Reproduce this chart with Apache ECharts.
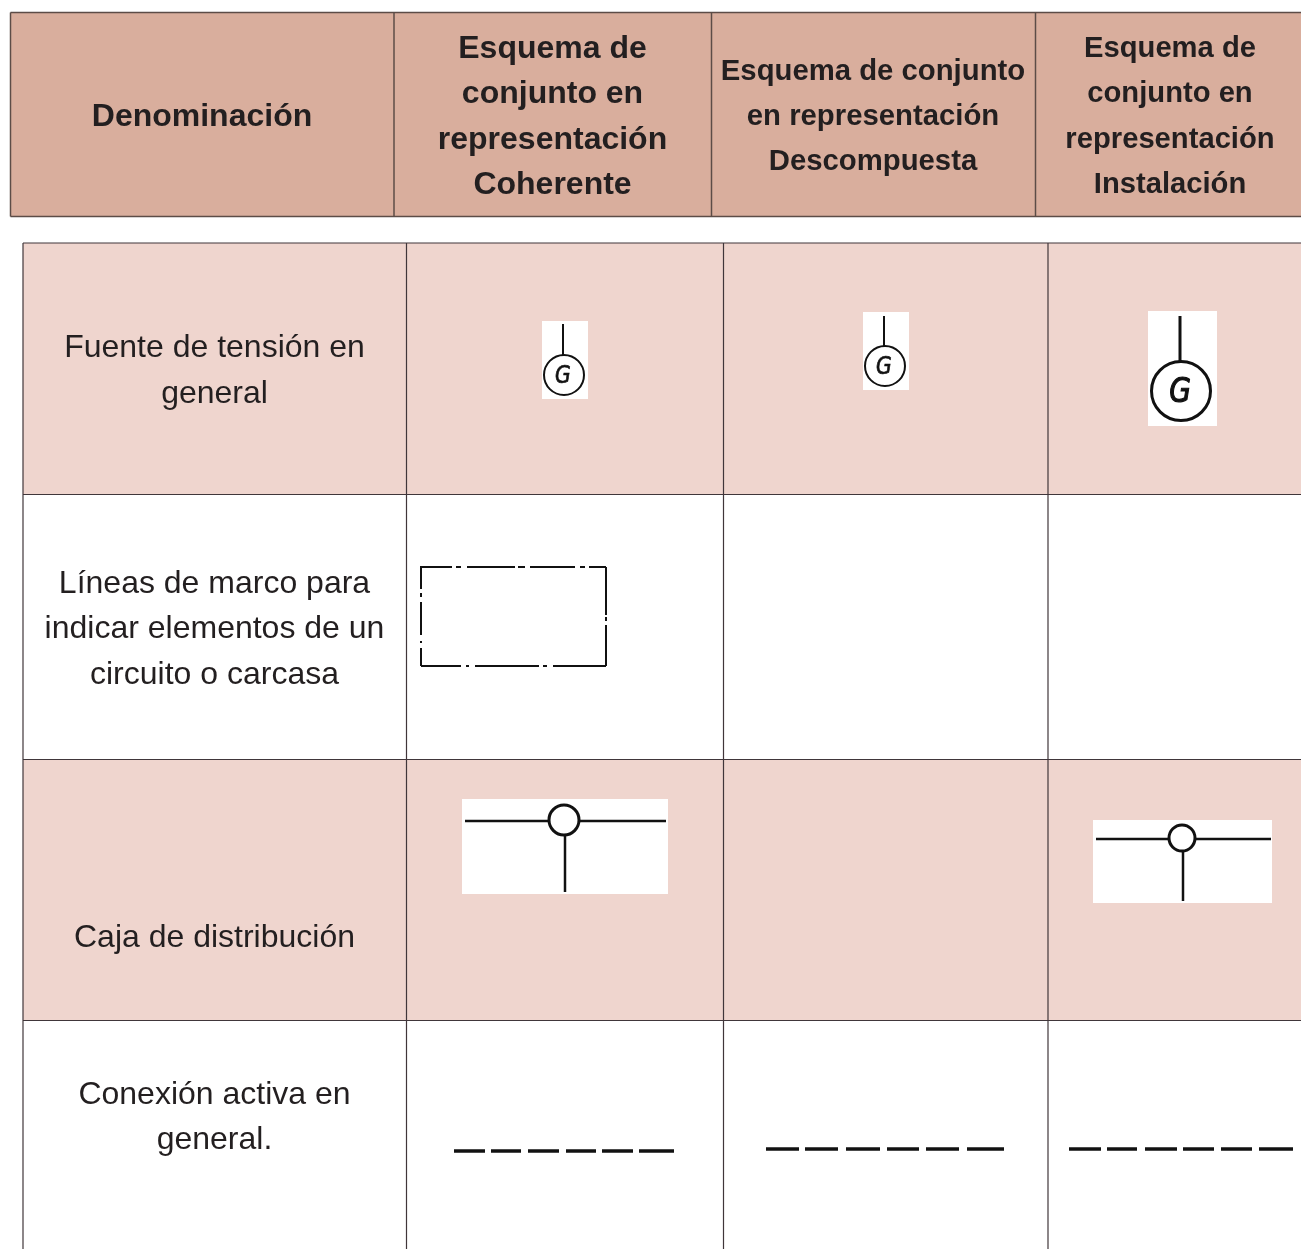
<!DOCTYPE html>
<html>
<head>
<meta charset="utf-8">
<style>
  html, body { margin: 0; padding: 0; background: #fff; }
  #chart { width: 1301px; height: 1249px; }
</style>
<script src="https://cdn.jsdelivr.net/npm/echarts@6/dist/echarts.min.js"></script>
</head>
<body>
<div id="chart"></div>
<script>
// table content
const headerLabels = [
  ['Denominación'],
  ['Esquema de', 'conjunto en', 'representación', 'Coherente'],
  ['Esquema de conjunto', 'en representación', 'Descompuesta'],
  ['Esquema de', 'conjunto en', 'representación', 'Instalación']
];
const rowLabels = [
  ['Fuente de tensión en', 'general'],
  ['Líneas de marco para', 'indicar elementos de un', 'circuito o carcasa'],
  ['Caja de distribución'],
  ['Conexión activa en', 'general.']
];
const generatorLetter = 'G';

// layout
const INK = '#231f20';
const HEAD_FILL = '#d9ae9d';
const ROW_FILL = '#efd5ce';
const HEAD_LINE = '#5c4c47';
const ROW_LINE = '#40363a';
const W = 1301, H = 1249;

const headCols = [10.5, 394, 711.5, 1035.5, W];
const headTop = 12.5, headBottom = 216.5;
const headTextX = [202, 552.5, 873, 1170];
const headFontSize = [32, 32, 29.3, 29.2];
const headTextY = [[117], [49, 94, 140, 185], [72, 117, 162], [49, 94, 140, 185]];

const bodyCols = [23, 406.5, 723.5, 1048, W];
const bodyRows = [243, 494.5, 759.5, 1020.5, H];
const rowTextX = 214.5;
const rowTextY = [[348, 394], [584, 629, 675], [938], [1095, 1140]];

const g = [];

function rect(x, y, w, h, fill) {
  g.push({ type: 'rect', shape: { x, y, width: w, height: h }, style: { fill } });
}
function line(x1, y1, x2, y2, stroke, lineWidth) {
  g.push({ type: 'line', shape: { x1, y1, x2, y2 }, style: { stroke, lineWidth } });
}
function circle(cx, cy, r, lineWidth) {
  g.push({ type: 'circle', shape: { cx, cy, r }, style: { fill: '#fff', stroke: '#111', lineWidth } });
}
function text(str, x, y, font) {
  g.push({ type: 'text', style: { text: str, x, y, align: 'center', verticalAlign: 'middle', font, fill: INK } });
}
function hDashes(y, segs, lw) {
  segs.forEach(s => line(s[0], y, s[1], y, '#111', lw));
}
function vDashes(x, segs, lw) {
  segs.forEach(s => line(x, s[0], x, s[1], '#111', lw));
}

// header band
rect(headCols[0], headTop, W - headCols[0], headBottom - headTop, HEAD_FILL);
line(headCols[0], headTop, W, headTop, HEAD_LINE, 1.5);
line(headCols[0], headBottom, W, headBottom, HEAD_LINE, 1.5);
headCols.slice(0, 4).forEach(x => line(x, headTop, x, headBottom, HEAD_LINE, 1.5));
headerLabels.forEach((lines, c) => {
  lines.forEach((s, i) => text(s, headTextX[c], headTextY[c][i], 'bold ' + headFontSize[c] + 'px "Liberation Sans"'));
});

// body rows
rect(bodyCols[0], bodyRows[0], W - bodyCols[0], bodyRows[1] - bodyRows[0], ROW_FILL);
rect(bodyCols[0], bodyRows[2], W - bodyCols[0], bodyRows[3] - bodyRows[2], ROW_FILL);
bodyRows.slice(0, 4).forEach(y => line(bodyCols[0], y, W, y, ROW_LINE, 1.2));
bodyCols.slice(0, 4).forEach(x => line(x, bodyRows[0], x, H, ROW_LINE, 1.2));
rowLabels.forEach((lines, r) => {
  lines.forEach((s, i) => text(s, rowTextX, rowTextY[r][i], '32px "Liberation Sans"'));
});

// generator symbols
function generator(box, x, top, cx, cy, r, lw, fs, letterLw) {
  rect(box[0], box[1], box[2], box[3], '#fff');
  line(x, top, x, cy - r, '#111', lw);
  circle(cx, cy, r, lw);
  g.push({
    type: 'text', x: cx - 1, y: cy + 2, scaleX: 0.85,
    style: { text: generatorLetter, align: 'center', verticalAlign: 'middle', font: 'italic ' + fs + 'px "DejaVu Sans"', fill: '#111', stroke: '#111', lineWidth: letterLw }
  });
}
generator([542, 321, 46, 78], 563, 324, 564, 375, 20, 2, 24, 0.7);
generator([863, 312, 46, 78], 884, 316, 885, 366, 20, 2, 24, 0.7);
generator([1148, 311, 69, 115], 1180, 316, 1181, 391, 29.5, 3, 33, 1.2);

// frame lines
hDashes(567, [[420, 452], [456, 461], [467, 515], [518, 525], [530, 575], [580, 585], [589, 606]], 2);
hDashes(666, [[421, 461], [466, 469], [475, 539], [543, 547], [553, 606]], 2);
vDashes(421, [[567, 589], [593, 597], [602, 635], [641, 643], [648, 666]], 2);
vDashes(606, [[567, 615], [617, 621], [625, 666]], 2);

// distribution boxes
function junction(box, y, x1, x2, x3, x4, cx, cy, r, vx, vTop, vBottom) {
  rect(box[0], box[1], box[2], box[3], '#fff');
  line(x1, y, x2, y, '#111', 2.5);
  line(x3, y, x4, y, '#111', 2.5);
  line(vx, vTop, vx, vBottom, '#111', 2.5);
  circle(cx, cy, r, 3);
}
junction([462, 799, 206, 95], 821, 465, 549, 580, 666, 564, 820, 15, 565, 835, 892);
junction([1093, 820, 179, 83], 839, 1096, 1168, 1196, 1271, 1182, 838, 13, 1183, 852, 901);

// active connection dashes
hDashes(1151, [[454, 485], [491, 521], [528, 559], [566, 596], [602, 633], [639, 674]], 3.5);
hDashes(1149, [[766, 799], [805, 838], [846, 880], [887, 919], [926, 959], [967, 1004]], 3.5);
hDashes(1149, [[1069, 1101], [1107, 1137], [1145, 1177], [1183, 1214], [1221, 1252], [1259, 1293]], 3.5);

const chart = echarts.init(document.getElementById('chart'));
chart.setOption({
  backgroundColor: '#fff',
  animation: false,
  graphic: { elements: g }
});
</script>
</body>
</html>
